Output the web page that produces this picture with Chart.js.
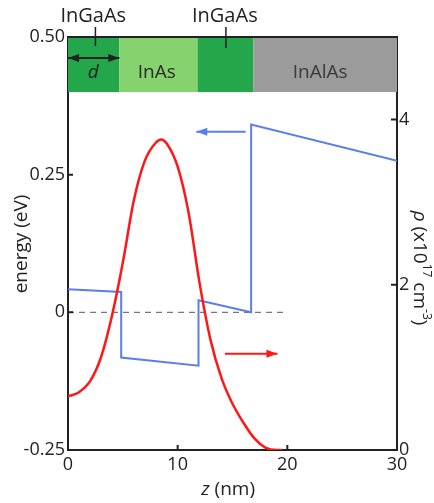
<!DOCTYPE html>
<html>
<head>
<meta charset="utf-8">
<script src="https://cdn.jsdelivr.net/npm/chart.js@4"></script>
<style>
  html, body { margin: 0; padding: 0; background: #fff; }
  #wrap { width: 434px; height: 503px; }
</style>
</head>
<body>
<div id="wrap"><canvas id="chart"></canvas></div>
<script>
// conduction band edge (left axis, eV)
const bandZ = [0, 4.85, 4.85, 11.9, 11.9, 16.7, 16.7, 30];
const bandEnergy = [0.042, 0.037, -0.082, -0.097, 0.022, 0.0, 0.341, 0.275];

// electron density (right axis, x10^17 cm^-3)
const densZ = [0, 1, 2, 3, 4, 5, 6, 7, 8, 8.5, 9, 10, 11, 12, 13, 14, 15, 16, 17, 18, 19, 19.5];
const density = [0.65, 0.7, 0.83, 1.12, 1.62, 2.27, 3.02, 3.5, 3.72, 3.76, 3.71, 3.43, 2.87, 2.02, 1.33, 0.87, 0.56, 0.33, 0.14, 0.03, 0.0, 0.0];

// layer stack drawn across the top
const layerNames = ["InGaAs", "InAs", "InGaAs", "InAlAs"];
const layerEdges = [0, 4.68, 11.82, 16.9, 30];

const xTicks = [0, 10, 20, 30];
const yTicks = [-0.25, 0, 0.25, 0.5];
const y2Ticks = [0, 2, 4];

const FONT = '"Open Sans", "DejaVu Sans", sans-serif';
const INK = "#222";
const BLUE = "#5b7fe9";
const RED = "#ff1616";

function arrow(ctx, x1, y1, x2, y2, color, both) {
  ctx.save();
  ctx.strokeStyle = color;
  ctx.fillStyle = color;
  ctx.lineWidth = 2;
  ctx.beginPath();
  ctx.moveTo(x1, y1);
  ctx.lineTo(x2, y2);
  ctx.stroke();
  const head = (xa, ya, xb, yb) => {
    const a = Math.atan2(yb - ya, xb - xa);
    ctx.beginPath();
    ctx.moveTo(xb, yb);
    ctx.lineTo(xb - 11 * Math.cos(a) + 4 * Math.sin(a), yb - 11 * Math.sin(a) - 4 * Math.cos(a));
    ctx.lineTo(xb - 11 * Math.cos(a) - 4 * Math.sin(a), yb - 11 * Math.sin(a) + 4 * Math.cos(a));
    ctx.closePath();
    ctx.fill();
  };
  head(x1, y1, x2, y2);
  if (both) head(x2, y2, x1, y1);
  ctx.restore();
}

const decorations = {
  id: "decorations",
  beforeDatasetsDraw(chart) {
    const { ctx, scales } = chart;
    const x = scales.x, y = scales.y;
    const colors = ["#24a64a", "#86d26f", "#24a64a", "#9b9b9b"];
    const top = y.getPixelForValue(0.5), bot = y.getPixelForValue(0.4);
    ctx.save();
    for (let i = 0; i < layerNames.length; i++) {
      const l = x.getPixelForValue(layerEdges[i]);
      const r = x.getPixelForValue(layerEdges[i + 1]);
      ctx.fillStyle = colors[i];
      ctx.fillRect(l, top, r - l, bot - top);
    }
    ctx.fillStyle = "#2a2a2a";
    ctx.font = "19px " + FONT;
    ctx.textAlign = "center";
    ctx.textBaseline = "middle";
    const mid = (top + bot) / 2 + 8;
    ctx.fillText(layerNames[1], x.getPixelForValue(8.1), mid);
    ctx.fillStyle = "#3a3a3a";
    ctx.fillText(layerNames[3], x.getPixelForValue(23), mid);
    ctx.fillStyle = "#222";
    ctx.font = "italic 19px " + FONT;
    ctx.fillText("d", x.getPixelForValue(2.3), mid);
    // labels above the frame
    ctx.font = "20px " + FONT;
    ctx.fillStyle = INK;
    ctx.textBaseline = "alphabetic";
    ctx.fillText(layerNames[0], x.getPixelForValue(2.3), 22);
    ctx.fillText(layerNames[2], x.getPixelForValue(14.3), 22);
    ctx.strokeStyle = INK;
    ctx.lineWidth = 1.5;
    ctx.beginPath();
    ctx.moveTo(x.getPixelForValue(2.5), 27); ctx.lineTo(x.getPixelForValue(2.5), 46);
    ctx.moveTo(x.getPixelForValue(14.4), 27); ctx.lineTo(x.getPixelForValue(14.4), 48);
    ctx.stroke();
    ctx.restore();
    const yd = y.getPixelForValue(0.462);
    arrow(ctx, x.getPixelForValue(0), yd, x.getPixelForValue(4.68), yd, INK, true);
  },
  afterDraw(chart) {
    const { ctx, chartArea, scales } = chart;
    const x = scales.x, y = scales.y, y2 = scales.y2;
    ctx.save();
    ctx.strokeStyle = INK;
    ctx.lineWidth = 2;
    ctx.beginPath();
    ctx.moveTo(chartArea.left, chartArea.top);
    ctx.lineTo(chartArea.right, chartArea.top);
    // inward tick marks
    xTicks.forEach(v => {
      const p = x.getPixelForValue(v);
      ctx.moveTo(p, chartArea.bottom); ctx.lineTo(p, chartArea.bottom - 5);
    });
    yTicks.forEach(v => {
      const p = y.getPixelForValue(v);
      ctx.moveTo(chartArea.left, p); ctx.lineTo(chartArea.left + 5, p);
    });
    y2Ticks.forEach(v => {
      const p = y2.getPixelForValue(v);
      ctx.moveTo(chartArea.right, p); ctx.lineTo(chartArea.right - 6, p);
    });
    ctx.stroke();

    // arrows pointing to each axis
    const yb = y.getPixelForValue(0.328);
    arrow(ctx, x.getPixelForValue(16.2), yb, x.getPixelForValue(11.7), yb, BLUE, false);
    const yr = y.getPixelForValue(-0.075);
    arrow(ctx, x.getPixelForValue(14.3), yr, x.getPixelForValue(19.1), yr, RED, false);

    // axis titles
    ctx.fillStyle = INK;
    ctx.textBaseline = "middle";
    ctx.save();
    ctx.translate(22, 244);
    ctx.rotate(-Math.PI / 2);
    ctx.textAlign = "center";
    ctx.font = "19px " + FONT;
    ctx.fillText("energy (eV)", 0, 0);
    ctx.restore();

    ctx.textAlign = "left";
    ctx.font = "italic 19px " + FONT;
    const zw = ctx.measureText("z").width;
    ctx.font = "19px " + FONT;
    const rest = " (nm)";
    const tw = zw + ctx.measureText(rest).width;
    let sx = x.getPixelForValue(14.6) - tw / 2;
    ctx.font = "italic 19px " + FONT;
    ctx.fillText("z", sx, 490);
    ctx.font = "19px " + FONT;
    ctx.fillText(rest, sx + zw, 490);

    // right title, rotated clockwise
    const parts = [
      ["ρ", "italic 19px", 0],
      [" (x10", "19px", 0],
      ["17", "12px", -7],
      [" cm", "19px", 0],
      ["-3", "12px", -7],
      [")", "19px", 0]
    ];
    let total = 0;
    parts.forEach(p => { ctx.font = p[1] + " " + FONT; total += ctx.measureText(p[0]).width; });
    ctx.save();
    ctx.translate(419, 268);
    ctx.rotate(Math.PI / 2);
    let cx = -total / 2;
    parts.forEach(p => {
      ctx.font = p[1] + " " + FONT;
      ctx.fillText(p[0], cx, p[2]);
      cx += ctx.measureText(p[0]).width;
    });
    ctx.restore();
    ctx.restore();
  }
};

new Chart(document.getElementById("chart"), {
  type: "scatter",
  data: {
    datasets: [
      {
        label: "density",
        data: densZ.map((z, i) => ({ x: z, y: density[i] })),
        yAxisID: "y2",
        showLine: true,
        borderColor: RED,
        borderWidth: 2.5,
        pointRadius: 0,
        cubicInterpolationMode: "monotone"
      },
      {
        label: "band edge",
        data: bandZ.map((z, i) => ({ x: z, y: bandEnergy[i] })),
        yAxisID: "y",
        showLine: true,
        borderColor: BLUE,
        borderWidth: 2,
        pointRadius: 0,
        tension: 0
      },
      {
        label: "Fermi level",
        data: [{ x: 0, y: 0 }, { x: 20, y: 0 }],
        yAxisID: "y",
        showLine: true,
        borderColor: "#777",
        borderWidth: 1.3,
        borderDash: [6, 5],
        pointRadius: 0
      }
    ]
  },
  options: {
    responsive: true,
    maintainAspectRatio: false,
    animation: false,
    layout: { padding: { top: 37, left: 0, right: 0, bottom: 0 } },
    plugins: { legend: { display: false }, tooltip: { enabled: false } },
    scales: {
      x: {
        type: "linear",
        min: 0, max: 30,
        afterBuildTicks: s => { s.ticks = xTicks.map(v => ({ value: v })); },
        afterFit: s => { s.height = 53; },
        grid: { display: false, drawTicks: false },
        border: { display: true, color: INK, width: 2 },
        ticks: { color: INK, font: { family: FONT, size: 18 }, padding: 4 }
      },
      y: {
        position: "left",
        min: -0.25, max: 0.5,
        afterBuildTicks: s => { s.ticks = yTicks.map(v => ({ value: v })); },
        afterFit: s => { s.width = 68; },
        grid: { display: false, drawTicks: false },
        border: { display: true, color: INK, width: 2 },
        ticks: {
          color: INK, font: { family: FONT, size: 18 }, padding: 3,
          callback: v => (v === 0 ? "0" : v.toFixed(2))
        }
      },
      y2: {
        position: "right",
        min: 0, max: 5,
        afterBuildTicks: s => { s.ticks = y2Ticks.map(v => ({ value: v })); },
        afterFit: s => { s.width = 37; },
        grid: { display: false, drawTicks: false },
        border: { display: true, color: INK, width: 2 },
        ticks: { color: INK, font: { family: FONT, size: 18 }, padding: 2 }
      }
    }
  },
  plugins: [decorations]
});
</script>
</body>
</html>
